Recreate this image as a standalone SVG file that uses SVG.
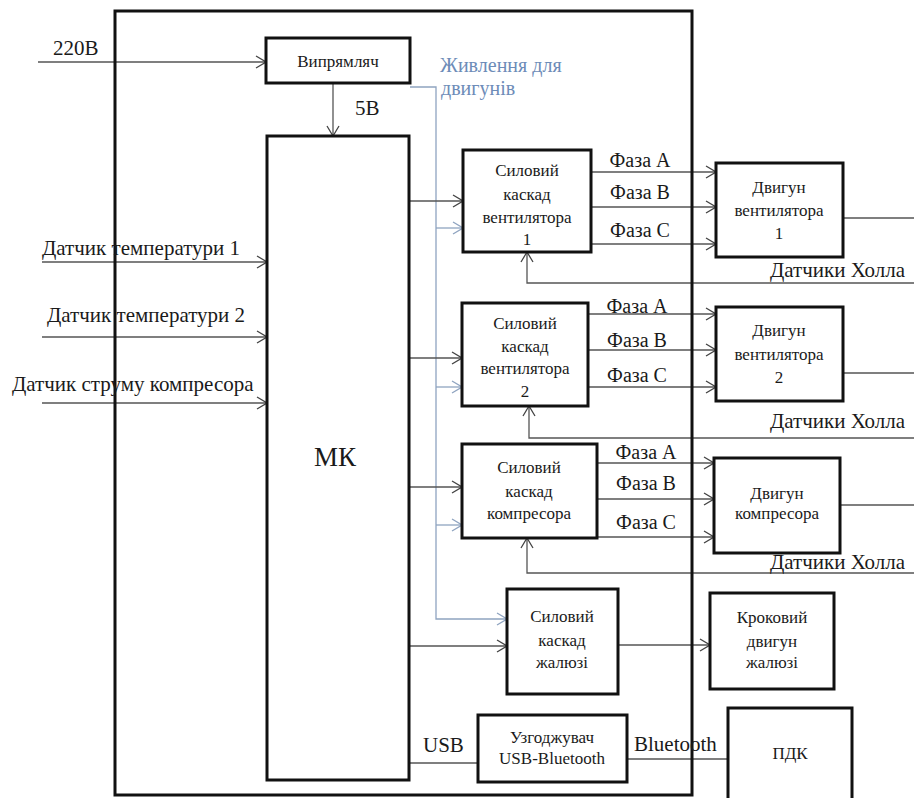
<svg xmlns="http://www.w3.org/2000/svg" width="914" height="798" viewBox="0 0 914 798" font-family="'Liberation Serif', 'Times New Roman', serif">
<style>
.box{fill:#fff;stroke:#111;stroke-width:3}
.frame{fill:none;stroke:#111;stroke-width:3}
.ln{fill:none;stroke:#555;stroke-width:1.3}
.bl{fill:none;stroke:#8fa4c0;stroke-width:1.3}
text{font-family:"Liberation Serif","Times New Roman",serif;fill:#1a1a1a}
.bt{font-family:"Liberation Serif",serif;font-size:17px;text-anchor:middle}
.lb{font-family:"Liberation Serif",serif;font-size:21px}
.ph{font-family:"Liberation Serif",serif;font-size:20px;text-anchor:middle}
.blt{font-family:"Liberation Serif",serif;fill:#6d8cb8;font-size:20px}
.mk{font-family:"Liberation Serif",serif;font-size:27px;text-anchor:middle}
</style>
<defs>
<marker id="ah" markerWidth="12" markerHeight="14" refX="11" refY="7" orient="auto" markerUnits="userSpaceOnUse"><path d="M1,1 L11,7 L1,13" fill="none" stroke="#444" stroke-width="1.3"/></marker>
<marker id="ahb" markerWidth="12" markerHeight="14" refX="11" refY="7" orient="auto" markerUnits="userSpaceOnUse"><path d="M1,1 L11,7 L1,13" fill="none" stroke="#8fa4c0" stroke-width="1.3"/></marker>
</defs>
<rect width="914" height="798" fill="#fff"/>

<g id="connectors">
<line class="ln" x1="38" y1="62" x2="266" y2="62" marker-end="url(#ah)"/>
<line class="ln" x1="333" y1="83" x2="333" y2="136" marker-end="url(#ah)"/>
<line class="ln" x1="42" y1="262" x2="267" y2="262" marker-end="url(#ah)"/>
<line class="ln" x1="42" y1="337" x2="267" y2="337" marker-end="url(#ah)"/>
<line class="ln" x1="42" y1="403" x2="267" y2="403" marker-end="url(#ah)"/>
<polyline class="bl" points="410,87 436,87 436,619 507,619" marker-end="url(#ahb)"/>
<line class="bl" x1="436" y1="228" x2="463" y2="228" marker-end="url(#ahb)"/>
<line class="bl" x1="436" y1="387" x2="462" y2="387" marker-end="url(#ahb)"/>
<line class="bl" x1="436" y1="525" x2="462" y2="525" marker-end="url(#ahb)"/>
<line class="ln" x1="409" y1="201" x2="463" y2="201" marker-end="url(#ah)"/>
<line class="ln" x1="409" y1="358" x2="462" y2="358" marker-end="url(#ah)"/>
<line class="ln" x1="409" y1="487" x2="462" y2="487" marker-end="url(#ah)"/>
<line class="ln" x1="409" y1="646" x2="507" y2="646" marker-end="url(#ah)"/>
<line class="ln" x1="591" y1="172" x2="716" y2="172" marker-end="url(#ah)"/>
<line class="ln" x1="591" y1="207" x2="716" y2="207" marker-end="url(#ah)"/>
<line class="ln" x1="591" y1="244" x2="716" y2="244" marker-end="url(#ah)"/>
<line class="ln" x1="588" y1="314" x2="716" y2="314" marker-end="url(#ah)"/>
<line class="ln" x1="588" y1="350" x2="716" y2="350" marker-end="url(#ah)"/>
<line class="ln" x1="588" y1="387" x2="716" y2="387" marker-end="url(#ah)"/>
<line class="ln" x1="597" y1="463" x2="714" y2="463" marker-end="url(#ah)"/>
<line class="ln" x1="597" y1="499" x2="714" y2="499" marker-end="url(#ah)"/>
<line class="ln" x1="597" y1="537" x2="714" y2="537" marker-end="url(#ah)"/>
<line class="ln" x1="843" y1="218" x2="914" y2="218"/>
<line class="ln" x1="843" y1="373" x2="914" y2="373"/>
<line class="ln" x1="840" y1="505" x2="914" y2="505"/>
<polyline class="ln" points="914,283 527,283 527,252" marker-end="url(#ah)"/>
<polyline class="ln" points="914,438 529,438 529,406" marker-end="url(#ah)"/>
<polyline class="ln" points="914,573 527,573 527,538" marker-end="url(#ah)"/>
<line class="ln" x1="618" y1="645" x2="710" y2="645" marker-end="url(#ah)"/>
<line class="ln" x1="409" y1="763" x2="478" y2="763"/>
<line class="ln" x1="627" y1="759" x2="728" y2="759"/>
</g>

<g id="frame"><rect class="frame" x="115" y="11" width="577" height="784"/></g>

<g id="labels">
<text class="lb" x="53" y="55">220В</text>
<text class="lb" x="355" y="115">5В</text>
<text class="blt" x="440" y="72">Живлення для</text>
<text class="blt" x="441" y="95">двигунів</text>
<text class="lb" x="42" y="255">Датчик температури 1</text>
<text class="lb" x="47" y="322">Датчик температури 2</text>
<text class="lb" x="12" y="391">Датчик струму компресора</text>
<text class="ph" x="640" y="167">Фаза А</text>
<text class="ph" x="640" y="199">Фаза В</text>
<text class="ph" x="640" y="237">Фаза С</text>
<text class="ph" x="637" y="313">Фаза А</text>
<text class="ph" x="637" y="347">Фаза В</text>
<text class="ph" x="637" y="382">Фаза С</text>
<text class="ph" x="646" y="459">Фаза А</text>
<text class="ph" x="646" y="490">Фаза В</text>
<text class="ph" x="646" y="529">Фаза С</text>
<text class="lb" x="905" y="277" text-anchor="end">Датчики Холла</text>
<text class="lb" x="905" y="428" text-anchor="end">Датчики Холла</text>
<text class="lb" x="905" y="569" text-anchor="end">Датчики Холла</text>
<text class="lb" x="423" y="752">USB</text>
<text class="lb" x="634" y="751">Bluetooth</text>
</g>

<g id="rectifier"><rect class="box" x="266" y="38" width="144" height="45"/><text class="bt" x="338" y="67">Випрямляч</text></g>

<g id="mk"><rect class="box" x="267" y="136" width="142" height="644"/><text class="mk" x="335" y="466">МК</text></g>

<g id="cascade1"><rect class="box" x="463" y="150" width="128" height="102"/>
<text class="bt" x="527" y="176">Силовий</text><text class="bt" x="527" y="200">каскад</text><text class="bt" x="527" y="223">вентилятора</text><text class="bt" x="527" y="245">1</text></g>

<g id="cascade2"><rect class="box" x="462" y="303" width="126" height="103"/>
<text class="bt" x="525" y="329">Силовий</text><text class="bt" x="525" y="352">каскад</text><text class="bt" x="525" y="374">вентилятора</text><text class="bt" x="525" y="397">2</text></g>

<g id="cascade3"><rect class="box" x="462" y="444" width="135" height="94"/>
<text class="bt" x="529" y="473">Силовий</text><text class="bt" x="529" y="497">каскад</text><text class="bt" x="529" y="519">компресора</text></g>

<g id="cascade4"><rect class="box" x="507" y="589" width="111" height="105"/>
<text class="bt" x="562" y="622">Силовий</text><text class="bt" x="562" y="646">каскад</text><text class="bt" x="562" y="668">жалюзі</text></g>

<g id="motor1"><rect class="box" x="716" y="163" width="127" height="94"/>
<text class="bt" x="779" y="193">Двигун</text><text class="bt" x="779" y="216">вентилятора</text><text class="bt" x="779" y="239">1</text></g>

<g id="motor2"><rect class="box" x="716" y="307" width="127" height="94"/>
<text class="bt" x="779" y="336">Двигун</text><text class="bt" x="779" y="360">вентилятора</text><text class="bt" x="779" y="383">2</text></g>

<g id="motor3"><rect class="box" x="714" y="458" width="126" height="95"/>
<text class="bt" x="777" y="499">Двигун</text><text class="bt" x="777" y="519">компресора</text></g>

<g id="stepper"><rect class="box" x="710" y="593" width="124" height="96"/>
<text class="bt" x="772" y="623">Кроковий</text><text class="bt" x="772" y="647">двигун</text><text class="bt" x="772" y="668">жалюзі</text></g>

<g id="adapter"><rect class="box" x="478" y="715" width="149" height="67"/>
<text class="bt" x="552" y="743">Узгоджувач</text><text class="bt" x="552" y="764">USB-Bluetooth</text></g>

<g id="pdk"><rect class="box" x="728" y="708" width="124" height="100"/>
<text class="bt" x="790" y="759">ПДК</text></g>
</svg>
